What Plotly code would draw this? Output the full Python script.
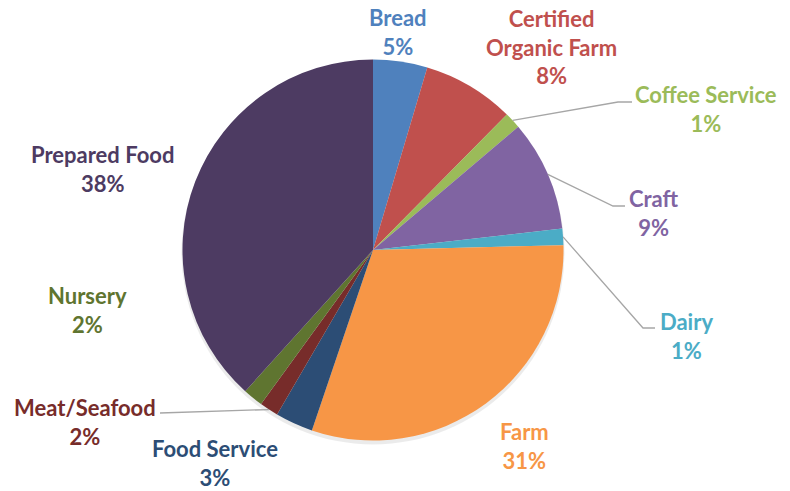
import plotly.graph_objects as go
import math

categories = ["Bread", "Certified<br>Organic Farm", "Coffee Service", "Craft", "Dairy",
              "Farm", "Food Service", "Meat/Seafood", "Nursery", "Prepared Food"]
values = [4.6, 7.8, 1.4, 9.4, 1.4, 30.6, 3.2, 1.6, 1.7, 38.3]
colors = ["#4F81BD", "#C0504D", "#9BBB59", "#8064A2", "#4BACC6",
          "#F79646", "#2C4D75", "#772C2A", "#5F7530", "#4D3B62"]

W, H = 790, 491
CX, CY, R = 373, 250, 190.5

def px(x):
    return x / W

def py(y):
    return 1 - y / H

dom_x = [px(CX - R), px(CX + R)]
dom_y = [py(CY + R), py(CY - R)]

fig = go.Figure()
# soft shadow
fig.add_trace(go.Pie(values=[1], marker=dict(colors=["rgba(0,0,0,0.08)"], line=dict(width=0)),
                     domain=dict(x=[px(CX - R - 1), px(CX + R + 1)], y=[py(CY + R + 4), py(CY - R + 2)]),
                     textinfo="none", hoverinfo="skip", showlegend=False, sort=False))
fig.add_trace(go.Pie(labels=categories, values=values, sort=False, direction="clockwise", rotation=0,
                     marker=dict(colors=colors, line=dict(width=0)), textinfo="none",
                     domain=dict(x=dom_x, y=dom_y), showlegend=False))

total = sum(values)
label_pos = {  # text-block centres in pixels
    0: (398, 32), 1: (551, 47), 2: (706, 109), 3: (654, 213), 4: (686, 336),
    5: (524, 446), 6: (215, 463), 7: (85, 422), 8: (87, 310), 9: (102, 169),
}
annotations = []
for i, (c, v) in enumerate(zip(categories, values)):
    x, y = label_pos[i]
    pct = f"{round(v / total * 100)}%"
    annotations.append(dict(x=px(x), y=py(y), xref="paper", yref="paper", showarrow=False,
                            xanchor="center", yanchor="middle", borderpad=0,
                            text=f"{c}<br>{pct}", align="center",
                            font=dict(family="Lato", size=22, color=colors[i], weight=700)))

# leader lines: start at slice mid-angle on the rim
elbows = {2: [(618, 102), (632, 102)], 3: [(613, 206), (625, 206)],
          4: [(643, 328), (655, 328)], 7: [(160, 413)]}
cum = 0
shapes = []
for i, v in enumerate(values):
    mid = (cum + v / 2) / total * 2 * math.pi
    cum += v
    if i in elbows:
        sx, sy = CX + R * math.sin(mid), CY - R * math.cos(mid)
        pts = [(sx, sy)] + elbows[i]
        path = "M " + " L ".join(f"{px(a)},{py(b)}" for a, b in pts)
        shapes.append(dict(type="path", path=path, xref="paper", yref="paper",
                           line=dict(color="#A6A6A6", width=1.3)))

fig.update_layout(width=W, height=H, margin=dict(l=0, r=0, t=0, b=0),
                  paper_bgcolor="white", plot_bgcolor="white",
                  annotations=annotations, shapes=shapes)
fig.write_html("out.html")
